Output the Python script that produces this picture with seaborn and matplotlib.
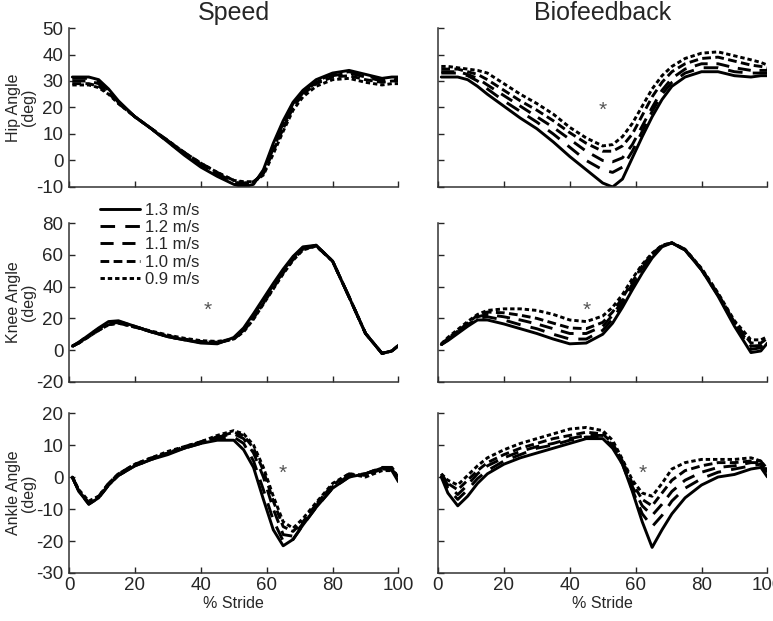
import numpy as np
import pandas as pd
import matplotlib
matplotlib.use("Agg")
import matplotlib.pyplot as plt
import seaborn as sns

# % stride sample points
stride = [1, 3, 6, 9, 12, 15, 20, 25, 30, 35, 40, 45, 50, 53, 56, 59, 62, 65, 68, 71, 75, 80, 85, 90, 95, 98, 100]
speeds = ["1.3 m/s", "1.2 m/s", "1.1 m/s", "1.0 m/s", "0.9 m/s"]

# hip angle, speed condition (one list per speed, same order as speeds)
hip_speed = [
    [31.5, 31.5, 31.5, 30.5, 27, 22.5, 16.5, 12, 7, 2, -2.5, -6, -9, -10, -9, -3.5, 6.5, 15, 22, 26.5, 30.5, 33, 34, 32.5, 31, 31.5, 31.5],
    [31, 31, 31, 30, 26.5, 22, 16.5, 12, 7, 2.5, -2, -5.5, -8.5, -9.5, -9, -4, 5.5, 14, 21.5, 26, 30, 32.5, 33.5, 32, 30.5, 31, 31],
    [30, 30, 30, 29, 26, 22, 16.5, 12, 7.5, 3, -1.5, -5, -8, -9, -8.5, -4.5, 4.5, 13, 21, 25.5, 29.5, 32, 33, 31.5, 30, 30.5, 30.5],
    [29, 29, 29, 28, 25.5, 21.5, 16.5, 12, 7.5, 3, -1, -4.5, -7.5, -8.5, -8, -5, 3.5, 12, 20, 25, 29, 31.5, 32, 30.5, 29.5, 30, 30],
    [28.5, 28.5, 28.5, 27.5, 25, 21.5, 16.5, 12, 7.5, 3, -1, -4.5, -7.5, -8, -8, -5.5, 2.5, 11, 19, 24, 28, 30.5, 31, 29.5, 28.5, 29, 29],
]
hip_bio = [
    [31.5, 31.5, 31.5, 30.5, 28, 25, 20.5, 16, 12, 7, 1.5, -3.5, -8.5, -10, -7, 1, 9, 16.5, 23, 28, 31.5, 33.5, 33.5, 32, 31.5, 32, 32],
    [33, 33, 33, 32, 30, 27, 22.5, 18.5, 14.5, 10, 5, 0, -3.5, -4.5, -2.5, 3.5, 11, 18.5, 25, 29.5, 33, 35, 35, 33.5, 33, 33, 33],
    [33.5, 33.5, 33.5, 32.5, 31, 28.5, 24.5, 20.5, 16.5, 12.5, 8, 3.5, 0, -0.5, 1, 6, 13, 20, 26.5, 31, 34.5, 36.5, 36.5, 35, 34, 34, 34],
    [34.5, 34.5, 34.5, 33.5, 32.5, 30.5, 26.5, 22.5, 19, 15, 10.5, 6.5, 3.5, 3.5, 5.5, 10, 17, 24, 29.5, 33.5, 36.5, 38.5, 39, 37.5, 36, 35.5, 35],
    [35.5, 35.5, 35, 34.5, 34, 33, 29, 25, 21.5, 17.5, 12.5, 8.5, 5.5, 6, 9, 14, 20.5, 27, 32, 35.5, 38.5, 40.5, 41, 39.5, 38, 37, 36],
]

# knee angle
knee_speed = [
    [2.5, 5, 9.5, 14, 18, 18.5, 15, 11.5, 8.5, 6.5, 4.5, 4, 8, 14, 23, 32.5, 42, 51, 59, 65, 66, 56, 33.5, 10.5, -2, -0.5, 3],
    [2.5, 5, 9.5, 13.5, 17, 18, 15, 11.5, 8.5, 6.5, 5, 4.5, 7.5, 13, 22, 31.5, 41, 50, 58.5, 64.5, 66, 56, 33.5, 10.5, -2, -0.5, 3],
    [2.5, 4.5, 9, 13, 16.5, 17.5, 15, 11.5, 8.5, 6.5, 5, 4.5, 7, 12.5, 21, 30.5, 40, 49, 57.5, 64, 66, 56, 33.5, 10.5, -2, -0.5, 3],
    [2.5, 4.5, 8.5, 12.5, 16, 17, 14.5, 11.5, 9, 7, 5.5, 5, 7, 12, 20, 29.5, 39, 48.5, 57, 63.5, 65.5, 56, 33.5, 10.5, -2, -0.5, 3],
    [2.5, 4.5, 8.5, 12.5, 16, 17, 14.5, 12, 9.5, 7.5, 6, 5.5, 7, 11.5, 19.5, 29, 38.5, 48, 56.5, 63, 65.5, 56, 33.5, 10.5, -2, -0.5, 3],
]
knee_bio = [
    [3.5, 6, 10.5, 15, 19, 19, 16.5, 13.5, 10.5, 7, 4, 4.5, 10, 17, 27, 38, 48.5, 58, 65, 67.5, 63, 50.5, 34, 15, -1.5, -0.5, 4.5],
    [3.5, 6.5, 11, 16, 20, 21, 19, 16, 13.5, 10, 7, 7, 12.5, 19.5, 29, 40, 50, 59, 65.5, 67.5, 63, 50.5, 34.5, 16, 0.5, 1.5, 5.5],
    [3.5, 7, 11.5, 16.5, 21, 22.5, 21, 19, 16.5, 13.5, 10.5, 10.5, 15, 22, 31, 41.5, 51.5, 60, 65.5, 67.5, 63, 51, 35, 17, 2.5, 3, 6.5],
    [3.5, 7.5, 12, 17, 22, 24, 23.5, 22, 20, 17, 14, 13.5, 17.5, 24, 33, 43, 53, 60.5, 66, 67.5, 63.5, 51, 35.5, 17.5, 4.5, 4.5, 7.5],
    [4, 8, 13, 18, 22.5, 25, 26, 26, 25, 22.5, 19, 18, 21.5, 27, 35, 45, 54, 61, 66, 67.5, 63.5, 51.5, 36, 18.5, 6.5, 6.5, 8.5],
]

# ankle angle
ankle_speed = [
    [0, -4.5, -8.5, -6.5, -2.5, 0.5, 3.5, 5.5, 7, 9, 10.5, 11.5, 11.5, 8.5, 3, -7, -16.5, -21.5, -19.5, -15, -9.5, -3.5, 0, 1, 2.8, 2, -1.5],
    [0, -4.5, -8.5, -6.5, -2.5, 0.5, 3.5, 5.5, 7.5, 9, 10.5, 12, 12.5, 10.5, 5, -4, -13.5, -20, -19.5, -15, -9.5, -3.5, 0, 1, 3, 2.5, -1],
    [0, -4.5, -8, -6.5, -2.5, 0.5, 3.5, 5.5, 7.5, 9, 11, 12.5, 13.5, 12, 7.5, 0, -10, -18, -18.5, -14.5, -9, -3, 0.5, 1, 3, 3, 0],
    [0, -4.5, -8, -6, -2, 1, 4, 6, 7.5, 9.5, 11, 12.5, 14, 13, 9, 2, -7.5, -15.5, -17, -14, -8.5, -2.5, 1, 0.5, 2.5, 2.5, 0],
    [0, -4, -7.5, -6, -2, 1, 4, 6, 8, 9.5, 11, 13, 14.5, 13.5, 10, 3, -6, -14, -16, -13, -8, -2, 1, 0, 2, 2, 0.5],
]
ankle_bio = [
    [0, -5, -9, -6, -2, 1, 4, 6, 7.5, 9, 10.5, 12, 12, 9, 4, -4.5, -14, -22, -16.5, -11.5, -6.5, -2.5, 0, 0.8, 2.5, 3, 0],
    [0.5, -3.5, -7, -4, -0.5, 2, 5, 7, 9, 10, 11.5, 12.5, 12.5, 9.5, 4, -4, -11.5, -15.5, -12, -7.5, -3.5, -0.5, 1.5, 2.5, 3.5, 4, 1],
    [0.5, -2.5, -5.5, -2.5, 1, 3.5, 6, 8, 9.5, 10.5, 12, 13, 13, 10, 4.5, -3, -9, -12, -8.5, -4.5, -1, 1.5, 3, 3.5, 4.5, 4.5, 1.5],
    [1, -2, -4, -1, 2, 4.5, 7, 9, 10.5, 12, 13, 14, 13.5, 10.5, 5, -2, -7, -9, -5, -1, 2, 3.5, 4.5, 4.5, 5, 5, 2],
    [1, -1, -2.5, 0.5, 3.5, 6, 8.5, 10.5, 12, 13.5, 15, 15.5, 14.5, 11.5, 5.5, -1, -5, -6, -2, 2.5, 4.5, 5.5, 5.5, 5.5, 6, 5, 2.5],
]

# significance markers (x, y) per panel
star_hip_bio = (50, 19)
star_knee_speed = (42, 25)
star_knee_bio = (45, 25)
star_ankle_speed = (65, 1)
star_ankle_bio = (62, 1)

dashes = {
    "1.3 m/s": "",
    "1.2 m/s": (5, 3.5),
    "1.1 m/s": (4.5, 3),
    "1.0 m/s": (3, 1.5),
    "0.9 m/s": (1.5, 1),
}


def make_df(curves):
    frames = []
    for label, values in zip(speeds, curves):
        frames.append(pd.DataFrame({"stride": stride, "angle": values, "speed": label}))
    return pd.concat(frames, ignore_index=True)


sns.set_style("ticks")
plt.rcParams["font.family"] = ["Liberation Sans", "DejaVu Sans"]
plt.rcParams["axes.unicode_minus"] = False
plt.rcParams["text.color"] = "#262626"
plt.rcParams["xtick.color"] = "#262626"
plt.rcParams["ytick.color"] = "#262626"

fig = plt.figure(figsize=(7.73, 6.21), dpi=100)

lefts = [0.0893, 0.5666]
width = 0.4262
rows = [(0.6989, 0.2560), (0.3849, 0.2560), (0.0773, 0.2576)]

panels = [
    [hip_speed, hip_bio],
    [knee_speed, knee_bio],
    [ankle_speed, ankle_bio],
]
ylims = [(-10, 50), (-20, 80), (-30, 20)]
yticks = [np.arange(-10, 51, 10), np.arange(-20, 81, 20), np.arange(-30, 21, 10)]
ylabels = ["Hip Angle\n(deg)", "Knee Angle\n(deg)", "Ankle Angle\n(deg)"]
stars = [[None, star_hip_bio], [star_knee_speed, star_knee_bio], [star_ankle_speed, star_ankle_bio]]

for r in range(3):
    bottom, height = rows[r]
    for c in range(2):
        ax = fig.add_axes([lefts[c], bottom, width, height])
        show_legend = (r == 1 and c == 0)
        sns.lineplot(data=make_df(panels[r][c]), x="stride", y="angle", style="speed",
                     style_order=speeds, dashes=dashes, color="black", linewidth=2.1,
                     errorbar=None, sort=False, legend=show_legend, ax=ax)
        ax.set_xlim(0, 100)
        ax.set_ylim(*ylims[r])
        ax.set_xticks(np.arange(0, 101, 20))
        ax.set_yticks(yticks[r])
        ax.tick_params(direction="in", length=4, width=1, labelsize=13.5)
        ax.tick_params(axis="x", pad=3)
        ax.tick_params(axis="y", pad=4)
        for side in ["left", "bottom"]:
            ax.spines[side].set_color("#333333")
            ax.spines[side].set_linewidth(1.1)
        sns.despine(ax=ax)
        if c == 0:
            ax.set_ylabel(ylabels[r], fontsize=11.5, labelpad=0, linespacing=1.0)
        else:
            ax.set_ylabel("")
            ax.set_yticklabels([])
        if r == 2:
            ax.set_xlabel("% Stride", fontsize=11.5, labelpad=1)
        else:
            ax.set_xlabel("")
            ax.set_xticklabels([])
        if stars[r][c] is not None:
            ax.text(stars[r][c][0], stars[r][c][1], "*", fontsize=15, color="#555555",
                    ha="center", va="center")
        if r == 0:
            ax.set_title(["Speed", "Biofeedback"][c], fontsize=18, pad=6)
        if show_legend:
            sns.move_legend(ax, "upper left", bbox_to_anchor=(0.075, 1.17), frameon=False,
                            title=None, fontsize=12, handlelength=2.4, handletextpad=0.25,
                            labelspacing=0.14, borderaxespad=0)

fig.savefig("out.png", dpi=100)
